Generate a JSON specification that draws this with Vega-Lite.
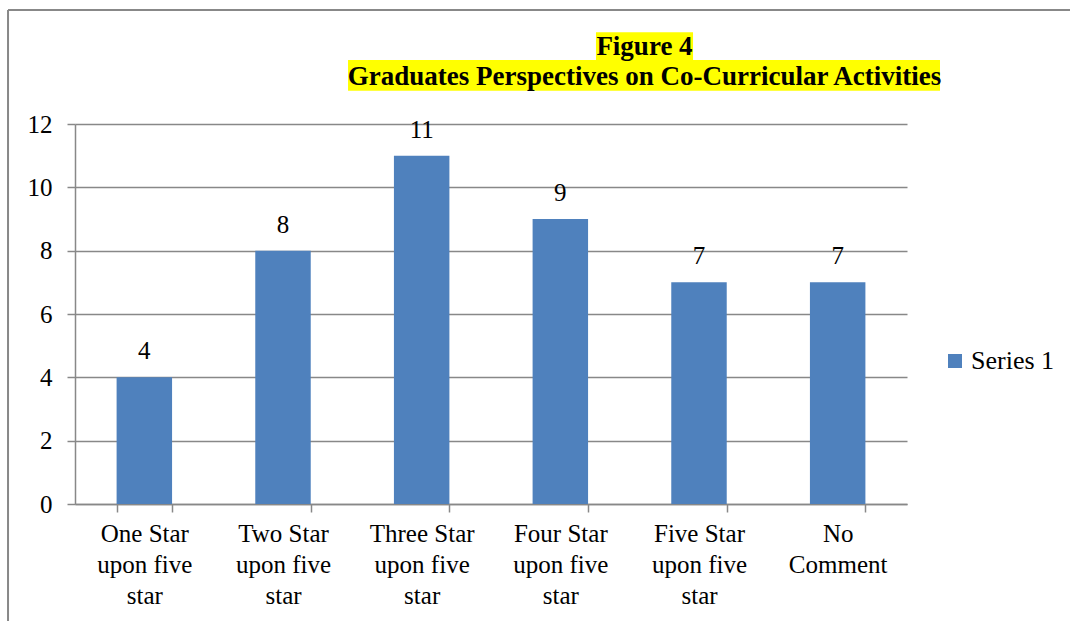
{
  "$schema": "https://vega.github.io/schema/vega-lite/v6.json",
  "width": 832,
  "height": 380,
  "autosize": {"type": "none"},
  "padding": {"left": 75, "top": 124, "right": 163, "bottom": 117},
  "background": "white",
  "config": {
    "view": {"stroke": null},
    "font": "Liberation Serif",
    "axis": {
      "labelFont": "Liberation Serif",
      "labelColor": "black",
      "domainColor": "#888888",
      "tickColor": "#888888",
      "gridColor": "#888888",
      "domainWidth": 1.5,
      "tickWidth": 1.5,
      "gridWidth": 1.5
    },
    "legend": {"labelFont": "Liberation Serif"}
  },
  "data": {
    "values": [
      {"category": "One Star upon five star", "value": 4, "series": "Series 1"},
      {"category": "Two Star upon five star", "value": 8, "series": "Series 1"},
      {"category": "Three Star upon five star", "value": 11, "series": "Series 1"},
      {"category": "Four Star upon five star", "value": 9, "series": "Series 1"},
      {"category": "Five Star upon five star", "value": 7, "series": "Series 1"},
      {"category": "No Comment", "value": 7, "series": "Series 1"}
    ]
  },
  "layer": [
    {
      "data": {"values": [{"frame": "chart"}]},
      "layer": [
        {
          "mark": {"type": "rule", "color": "#888888", "strokeWidth": 2},
          "encoding": {
            "x": {"datum": -0.483, "type": "quantitative", "scale": {"domain": [0, 6], "nice": false, "zero": false}, "axis": null},
            "x2": {"datum": 7.2},
            "y": {"datum": 15.6, "type": "quantitative"}
          }
        },
        {
          "mark": {"type": "rule", "color": "#888888", "strokeWidth": 2},
          "encoding": {
            "x": {"datum": -0.483, "type": "quantitative"},
            "y": {"datum": 15.6, "type": "quantitative"},
            "y2": {"datum": -3.8}
          }
        },
        {
          "mark": {"type": "rect", "color": "#FFFF00"},
          "encoding": {
            "x": {"datum": 3.757, "type": "quantitative"},
            "x2": {"datum": 4.457},
            "y": {"datum": 14.9, "type": "quantitative"},
            "y2": {"datum": 14.02}
          }
        },
        {
          "mark": {"type": "rect", "color": "#FFFF00"},
          "encoding": {
            "x": {"datum": 1.969, "type": "quantitative"},
            "x2": {"datum": 6.238},
            "y": {"datum": 14.02, "type": "quantitative"},
            "y2": {"datum": 13.05}
          }
        },
        {
          "mark": {"type": "text", "font": "Liberation Serif", "fontWeight": "bold", "fontSize": 27, "color": "black", "align": "center", "baseline": "alphabetic"},
          "encoding": {
            "x": {"datum": 4.107, "type": "quantitative"},
            "y": {"datum": 14.18, "type": "quantitative"},
            "text": {"value": "Figure 4"}
          }
        },
        {
          "mark": {"type": "text", "font": "Liberation Serif", "fontWeight": "bold", "fontSize": 27, "color": "black", "align": "center", "baseline": "alphabetic"},
          "encoding": {
            "x": {"datum": 4.107, "type": "quantitative"},
            "y": {"datum": 13.23, "type": "quantitative"},
            "text": {"value": "Graduates Perspectives on Co-Curricular Activities"}
          }
        }
      ]
    },
    {
      "encoding": {
        "x": {
          "field": "category",
          "type": "nominal",
          "sort": null,
          "scale": {"paddingInner": 0.6, "paddingOuter": 0.3},
          "axis": {
            "orient": "bottom",
            "title": null,
            "labelAngle": 0,
            "labelAlign": "center",
            "labelBaseline": "top",
            "labelFontSize": 25,
            "labelLineHeight": 31,
            "labelPadding": 9,
            "tickBand": "extent",
            "tickSize": 8,
            "labelExpr": "!isValid(datum.value) ? '' : datum.value == 'No Comment' ? ['No', 'Comment'] : [replace(datum.value, ' upon five star', ''), 'upon five', 'star']"
          }
        },
        "y": {
          "field": "value",
          "type": "quantitative",
          "scale": {"domain": [0, 12], "nice": false},
          "axis": {
            "orient": "left",
            "title": null,
            "values": [0, 2, 4, 6, 8, 10, 12],
            "labelFontSize": 25,
            "labelPadding": 15,
            "tickSize": 8,
            "grid": true
          }
        }
      },
      "layer": [
        {
          "mark": {"type": "bar"},
          "encoding": {
            "color": {
              "field": "series",
              "type": "nominal",
              "scale": {"range": ["#4F81BD"]},
              "legend": {
                "title": null,
                "orient": "none",
                "legendX": 867,
                "legendY": 224,
                "symbolType": "square",
                "symbolSize": 196,
                "symbolStrokeWidth": 0,
                "labelFontSize": 26,
                "labelColor": "black",
                "labelOffset": 3,
                "padding": 0
              }
            }
          }
        },
        {
          "mark": {"type": "text", "font": "Liberation Serif", "fontSize": 25, "color": "black", "baseline": "alphabetic", "dy": -18},
          "encoding": {
            "text": {"field": "value", "type": "quantitative"}
          }
        }
      ]
    }
  ],
  "resolve": {"scale": {"x": "independent"}}
}
